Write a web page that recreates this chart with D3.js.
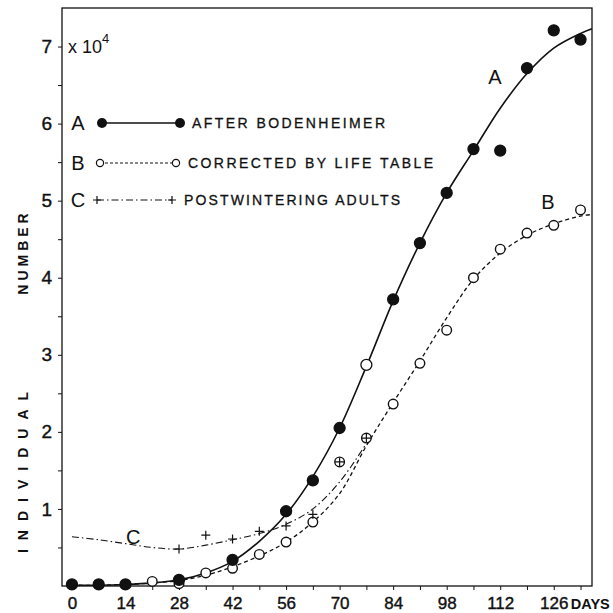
<!DOCTYPE html>
<html>
<head>
<meta charset="utf-8">
<script src="https://cdn.jsdelivr.net/npm/d3@7"></script>
<style>
  body { margin: 0; background: #fff; }
  text { font-family: "Liberation Sans", "DejaVu Sans", sans-serif; fill: #111; }
</style>
</head>
<body>
<svg id="chart" width="613" height="613"></svg>
<script>
// observed points (x 10^4 individuals)
const daysA = [0, 7, 14, 28, 42, 56, 63, 70, 77, 84, 91, 98, 105, 112, 119, 126, 133];
const valuesA = [0.02, 0.02, 0.02, 0.08, 0.34, 0.97, 1.37, 2.05, 2.87, 3.72, 4.45, 5.10, 5.67, 5.65, 6.72, 7.21, 7.09];

const daysB = [0, 7, 14, 21, 28, 35, 42, 49, 56, 63, 70, 77, 84, 91, 98, 105, 112, 119, 126, 133];
const valuesB = [0.02, 0.02, 0.02, 0.06, 0.03, 0.17, 0.23, 0.41, 0.57, 0.83, 1.61, 1.92, 2.36, 2.89, 3.32, 4.0, 4.37, 4.58, 4.68, 4.88];

const daysC = [28, 35, 42, 49, 56, 63, 70, 77];
const valuesC = [0.48, 0.66, 0.61, 0.71, 0.78, 0.93, 1.61, 1.92];

// hand-drawn fitted curves
const curveDays = [0, 7, 14, 21, 28, 35, 42, 49, 56, 63, 70, 77, 84, 91, 98, 105, 112, 119, 126, 133, 136];
const curveA = [0.01, 0.01, 0.02, 0.04, 0.08, 0.17, 0.32, 0.58, 0.93, 1.42, 2.05, 2.85, 3.7, 4.45, 5.1, 5.65, 6.2, 6.65, 6.98, 7.17, 7.23];
const curveB = [0.01, 0.01, 0.02, 0.04, 0.07, 0.14, 0.25, 0.39, 0.57, 0.83, 1.2, 1.82, 2.38, 2.92, 3.48, 3.98, 4.32, 4.55, 4.7, 4.8, 4.82];
const curveCDays = [0, 7, 14, 21, 28, 35, 42, 49, 56, 63, 70, 77];
const curveC = [0.64, 0.6, 0.55, 0.5, 0.48, 0.53, 0.6, 0.68, 0.8, 1.0, 1.35, 1.85];

const xTicks = d3.range(0, 134, 7);
const xLabels = [0, 14, 28, 42, 56, 70, 84, 98, 112, 126];
const yTicks = d3.range(0.5, 7.01, 0.5);
const yLabels = [1, 2, 3, 4, 5, 6, 7];

const legendItems = [
  { key: "A", label: "AFTER BODENHEIMER" },
  { key: "B", label: "CORRECTED BY LIFE TABLE" },
  { key: "C", label: "POSTWINTERING ADULTS" }
];

const svg = d3.select("#chart");
const x = d3.scaleLinear().domain([-2.6, 136]).range([62, 592]);
const y = d3.scaleLinear().domain([0, 7.5]).range([586, 8]);

const dashB = "4,3";
const dashC = "7,3,1.5,3";

// frame
svg.append("rect")
  .attr("x", x(-2.6)).attr("y", y(7.5))
  .attr("width", x(136) - x(-2.6)).attr("height", y(0) - y(7.5))
  .attr("fill", "none").attr("stroke", "#111").attr("stroke-width", 1.3);

// axes
const yAxis = svg.append("g")
  .attr("transform", `translate(${x(-2.6)},0)`)
  .call(d3.axisLeft(y).tickValues(yTicks).tickSize(4).tickPadding(6)
    .tickFormat(d => yLabels.includes(d) ? d : ""));
yAxis.select(".domain").remove();
yAxis.selectAll("line").attr("stroke", "#111");
yAxis.selectAll("text").style("font-size", "19px").attr("fill", "#111")
  .attr("stroke", "#111").attr("stroke-width", 0.4);

const xAxis = svg.append("g")
  .attr("transform", `translate(0,${y(0)})`)
  .call(d3.axisBottom(x).tickValues(xTicks).tickSize(4).tickPadding(7)
    .tickFormat(d => xLabels.includes(d) ? d : ""));
xAxis.select(".domain").remove();
xAxis.selectAll("line").attr("stroke", "#111");
xAxis.selectAll("text").style("font-size", "17px").attr("fill", "#111")
  .attr("stroke", "#111").attr("stroke-width", 0.4);

svg.append("text")
  .attr("x", x(126) + 17).attr("y", y(0) + 23)
  .attr("textLength", 39).attr("lengthAdjust", "spacingAndGlyphs")
  .style("font-size", "15px").style("font-weight", "bold")
  .text("DAYS");

// x 10^4
const mult = svg.append("text").attr("x", 68).attr("y", 53).style("font-size", "18px");
mult.append("tspan").text("x 10");
mult.append("tspan").attr("dy", -10).style("font-size", "13px").text("4");

// y axis title
svg.append("text")
  .attr("transform", "translate(28,252) rotate(-90)")
  .attr("text-anchor", "middle")
  .style("font-size", "14px").style("font-weight", "bold").style("letter-spacing", "4px")
  .text("NUMBER");
svg.append("text")
  .attr("transform", "translate(28,468) rotate(-90)")
  .attr("text-anchor", "middle")
  .style("font-size", "14px").style("font-weight", "bold").style("letter-spacing", "9px")
  .text("INDIVIDUAL");

// curves
const line = d3.line().x(d => x(d[0])).y(d => y(d[1])).curve(d3.curveCatmullRom.alpha(0.5));

svg.append("path")
  .datum(d3.zip(curveDays, curveB))
  .attr("d", line).attr("fill", "none").attr("stroke", "#111")
  .attr("stroke-width", 1.3).attr("stroke-dasharray", dashB);

svg.append("path")
  .datum(d3.zip(curveCDays, curveC))
  .attr("d", line).attr("fill", "none").attr("stroke", "#111")
  .attr("stroke-width", 1.1).attr("stroke-dasharray", dashC);

svg.append("path")
  .datum(d3.zip(curveDays, curveA))
  .attr("d", line).attr("fill", "none").attr("stroke", "#111")
  .attr("stroke-width", 1.6);

// points B (open)
svg.append("g").selectAll("circle")
  .data(d3.zip(daysB, valuesB))
  .join("circle")
  .attr("cx", d => x(d[0])).attr("cy", d => y(d[1])).attr("r", 4.8)
  .attr("fill", "#fff").attr("stroke", "#111").attr("stroke-width", 1.4);

// points C (plus)
svg.append("g").selectAll("path")
  .data(d3.zip(daysC, valuesC))
  .join("path")
  .attr("d", d => {
    const cx = x(d[0]), cy = y(d[1]);
    return `M${cx - 4.5},${cy}H${cx + 4.5}M${cx},${cy - 4.5}V${cy + 4.5}`;
  })
  .attr("stroke", "#111").attr("stroke-width", 1.2);

// points A (filled); the day-77 point is printed open in the figure
svg.append("g").selectAll("circle")
  .data(d3.zip(daysA, valuesA))
  .join("circle")
  .attr("cx", d => x(d[0])).attr("cy", d => y(d[1])).attr("r", 5.5)
  .attr("fill", d => d[0] === 77 ? "#fff" : "#111")
  .attr("stroke", "#111").attr("stroke-width", 1.3);

// curve labels
svg.append("text").attr("x", x(110.6)).attr("y", y(6.51))
  .attr("text-anchor", "middle").style("font-size", "20px").text("A");
svg.append("text").attr("x", x(124.5)).attr("y", y(4.89))
  .attr("text-anchor", "middle").style("font-size", "20px").text("B");
svg.append("text").attr("x", x(16)).attr("y", y(0.54))
  .attr("text-anchor", "middle").style("font-size", "20px").text("C");

// legend
const legendRows = [123, 163, 200];
const lg = svg.append("g");
legendItems.forEach((item, i) => {
  const ry = legendRows[i];
  lg.append("text").attr("x", 78).attr("y", ry + 7)
    .attr("text-anchor", "middle").style("font-size", "20px").text(item.key);
  const x1 = i === 0 ? 102 : (i === 1 ? 100 : 97);
  const x2 = i === 0 ? 180 : (i === 1 ? 176 : 172);
  lg.append("line").attr("x1", x1).attr("x2", x2).attr("y1", ry).attr("y2", ry)
    .attr("stroke", "#111")
    .attr("stroke-width", i === 0 ? 1.4 : 1)
    .attr("stroke-dasharray", i === 0 ? null : (i === 1 ? "3,2" : dashC));
  [x1, x2].forEach(px => {
    if (i === 0) {
      lg.append("circle").attr("cx", px).attr("cy", ry).attr("r", 5).attr("fill", "#111");
    } else if (i === 1) {
      lg.append("circle").attr("cx", px).attr("cy", ry).attr("r", 3.6)
        .attr("fill", "#fff").attr("stroke", "#111").attr("stroke-width", 1.2);
    } else {
      lg.append("path").attr("d", `M${px - 4},${ry}H${px + 4}M${px},${ry - 4}V${ry + 4}`)
        .attr("stroke", "#111").attr("stroke-width", 1.2);
    }
  });
  const widths = [193, 245, 216];
  lg.append("text").attr("x", x2 + 12).attr("y", ry + 5)
    .attr("textLength", widths[i]).attr("lengthAdjust", "spacing")
    .style("font-size", "14px")
    .attr("stroke", "#111").attr("stroke-width", 0.3)
    .text(item.label);
});
</script>
</body>
</html>
